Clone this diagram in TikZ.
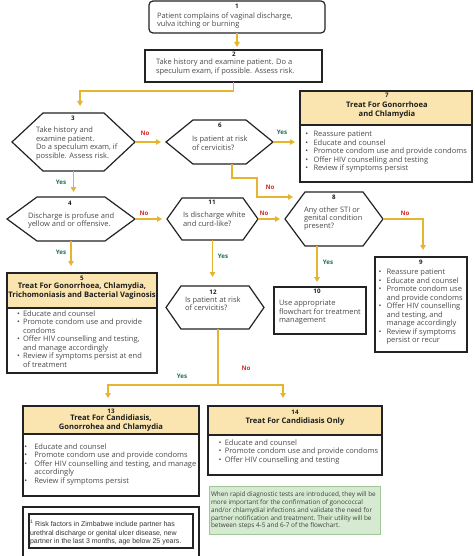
\documentclass[tikz,border=0pt]{standalone}
\usepackage{fontspec}
\setmainfont{Open Sans}
\newfontfamily\arialf{Liberation Sans}
\usetikzlibrary{arrows.meta,calc}
\definecolor{gold}{RGB}{230,180,45}
\definecolor{hdr}{RGB}{250,228,175}
\definecolor{bord}{RGB}{35,35,35}
\definecolor{txtc}{RGB}{75,75,75}
\definecolor{titc}{RGB}{30,30,30}
\definecolor{yesc}{RGB}{30,110,85}
\definecolor{noc}{RGB}{215,45,45}
\definecolor{notefill}{RGB}{213,234,209}
\definecolor{notebord}{RGB}{160,200,150}
\newlength\bw
\setlength\bw{7pt}
\newcommand{\bi}{\makebox[\bw][l]{\textbullet}}
\newcommand{\ci}{\hspace*{\bw}}
% name x1 y1 x2 y2 d
\newcommand{\hexnode}[6]{%
  \node[shp,minimum width={#4-#2},minimum height={#5-#3}] (#1) at ({(#2+#4)/2},{(#3+#5)/2}) {};
  \draw[bd,line join=miter] ([xshift=#6]#1.north west) -- ([xshift=-#6]#1.north east) -- (#1.east) -- ([xshift=-#6]#1.south east) -- ([xshift=#6]#1.south west) -- (#1.west) -- cycle;}
\newcommand{\boxnode}[5]{%
  \node[shp,minimum width={#4-#2},minimum height={#5-#3}] (#1) at ({(#2+#4)/2},{(#3+#5)/2}) {};}
\newcommand{\hdrbox}[2]{% name yheader
  \fill[hdr] (#1.north west) rectangle (#1.east |- 0,#2);
  \draw[bd] (#1.west |- 0,#2) -- (#1.east |- 0,#2);
  \draw[bd] (#1.north west) rectangle (#1.south east);}
\begin{document}
\begin{tikzpicture}[x=1pt,y=-1pt,
  shp/.style={inner sep=0,outer sep=0},
  bd/.style={draw=bord,line width=1.2pt},
  arr/.style={draw=gold,line width=1.4pt,-{Triangle[length=5pt,width=5.5pt]},shorten >=5pt},
  arrn/.style={draw=gold,line width=1.4pt,-{Triangle[length=5pt,width=5.5pt]}},
  txt/.style={inner sep=0,outer sep=0,anchor=north west,align=left,text=txtc,font=\fontsize{7.5}{8.5}\selectfont},
  blt/.style={txt,font={\fontsize{7.5}{8.5}\selectfont\setlength\bw{#1}}},
  num/.style={inner sep=0,outer sep=0,text=titc,font=\bfseries\fontsize{6.2}{7}\selectfont},
  ttl/.style={inner sep=0,outer sep=0,align=center,text=titc,font=\bfseries\fontsize{7.6}{9}\selectfont},
  lblyes/.style={inner sep=0,outer sep=0,text=yesc,font=\bfseries\fontsize{6.2}{7}\selectfont},
  lblno/.style={inner sep=0,outer sep=0,text=noc,font=\bfseries\fontsize{6.2}{7}\selectfont},
]
\useasboundingbox (0,0) rectangle (474,556);
\fill[white] (0,0) rectangle (474,556);

% ---- node 1
\node[shp,draw=bord,line width=1.2pt,rounded corners=4pt,minimum width=176,minimum height=32] (n1) at (237,17) {};
\node[num] (l1) at (237,6) {1};
\node[txt] (t1) at (157,12.3) {Patient complains of vaginal discharge,\\vulva itching or burning};

% ---- node 2
\boxnode{n2}{145}{50}{322}{82}
\draw[bd] (n2.north west) rectangle (n2.south east);
\node[num] (l2) at (234,54) {2};
\node[txt] (t2) at (156,59.3) {Take history and examine patient. Do a\\speculum exam, if possible. Assess risk.};

% ---- hexagons
\hexnode{n3}{12}{113}{135}{171}{31}
\node[num] (l3) at (73,118) {3};
\node[txt] (t3) at (36,127.3) {Take history and\\examine patient.\\Do a speculum exam, if\\possible. Assess risk.};

\hexnode{n6}{166}{120}{273}{164}{27}
\node[num] (l6) at (220,125) {6};
\node[txt] (t6) at (192,136.3) {Is patient at risk\\of cervicitis?};

\hexnode{n4}{7}{197}{135}{241}{30}
\node[num] (l4) at (70,203) {4};
\node[txt] (t4) at (28,212.3) {Discharge is profuse and\\yellow and or offensive.};

\hexnode{n11}{167}{198}{258}{240}{15}
\node[num] (l11) at (212,202) {11};
\node[txt] (t11) at (183,212.3) {Is discharge white\\and curd-like?};

\hexnode{n8}{285}{192}{383}{246}{20}
\node[num] (l8) at (334,197) {8};
\node[txt] (t8) at (304,206.3) {Any other STI or\\genital condition\\present?};

\hexnode{n12}{166}{286}{264}{329}{15}
\node[num] (l12) at (213,292) {12};
\node[txt] (t12) at (185,296.3) {Is patient at risk\\of cervicitis?};

% ---- node 7
\boxnode{n7}{300}{91}{472}{182}
\hdrbox{n7}{125}
\node[num] (l7) at (387,95.5) {7};
\node[ttl] (h7) at (387,110) {Treat For Gonorrhoea\\and Chlamydia};
\node[blt=8.2pt] (t7) at (305.3,131.3) {\bi Reassure patient\\\bi Educate and counsel\\\bi Promote condom use and provide condoms\\\bi Offer HIV counselling and testing\\\bi Review if symptoms persist};

% ---- node 5
\boxnode{n5}{7}{273}{157}{373}
\hdrbox{n5}{308}
\node[num] (l5) at (82,278) {5};
\node[ttl] (h5) at (82,291.5) {Treat For Gonorrhoea, Chlamydia,\\Trichomoniasis and Bacterial Vaginosis};
\node[blt=6pt] (t5) at (17,310.3) {\bi Educate and counsel\\\bi Promote condom use and provide\\\ci condoms\\\bi Offer HIV counselling and testing,\\\ci and manage accordingly\\\bi Review if symptoms persist at end\\\ci of treatment};

% ---- node 9
\boxnode{n9}{375}{257}{467}{352}
\draw[bd] (n9.north west) rectangle (n9.south east);
\node[num] (l9) at (421,262) {9};
\node[blt=8pt] (t9) at (378.6,269.3) {\bi Reassure patient\\\bi Educate and counsel\\\bi Promote condom use\\\ci and provide condoms\\\bi Offer HIV counselling\\\ci and testing, and\\\ci manage accordingly\\\bi Review if symptoms\\\ci persist or recur};

% ---- node 10
\boxnode{n10}{274}{287}{366}{334}
\draw[bd] (n10.north west) rectangle (n10.south east);
\node[num] (l10) at (317,291.5) {10};
\node[txt] (t10) at (279,300.3) {Use appropriate\\flowchart for treatment\\management};

% ---- node 13
\boxnode{n13}{23}{406}{199}{496}
\hdrbox{n13}{434}
\node[num] (l13) at (111,411) {13};
\node[ttl] (h13) at (111,423.5) {Treat For Candidiasis,\\Gonorrohea and Chlamydia};
\node[blt=10pt] (t13) at (24.3,443.3) {\bi Educate and counsel\\\bi Promote condom use and provide condoms\\\bi Offer HIV counselling and testing, and manage\\\ci accordingly\\\bi Review if symptoms persist};

% ---- node 14
\boxnode{n14}{208}{406}{382}{475}
\hdrbox{n14}{435}
\node[num] (l14) at (295,412) {14};
\node[ttl] (h14) at (295,421.5) {Treat For Candidiasis Only};
\node[blt=6.2pt] (t14) at (218.6,439.3) {\bi Educate and counsel\\\bi Promote condom use and provide condoms\\\bi Offer HIV counselling and testing};

% ---- green note
\node[shp,fill=notefill,draw=notebord,line width=0.8pt,minimum width=171,minimum height=48] (note) at (294.5,510) {};
\node[txt,font=\fontsize{6.4}{7.8}\selectfont,text=black!75] (tnote) at (211,491.8) {When rapid diagnostic tests are introduced, they will be\\more important for the confirmation of gonococcal\\and/or chlamydial infections and validate the need for\\partner notification and treatment. Their utility will be\\between steps 4-5 and 6-7 of the flowchart.};

% ---- footnote
\boxnode{fo}{23}{507}{199}{563}
\draw[bd] (fo.north west) rectangle (fo.south east);
\boxnode{fi}{29}{514}{193}{548}
\draw[bd] (fi.north west) rectangle (fi.south east);
\node[txt,font=\arialf\fontsize{7}{8.5}\selectfont,text=black!80] (tfoot) at (30,520.2) {\textsuperscript{1} Risk factors in Zimbabwe include partner has\\urethral discharge or genital ulcer disease, new\\partner in the last 3 months, age below 25 years.};

% ---- connectors
\draw[arr,shorten >=3pt] (n1.south) -- (n1.south |- n2.north);
\draw[arr,shorten >=7pt] (n2.south) -- ++(0,9) -| ([xshift=6.5]n3.north);
\draw[arr] (n3.east) -- (n6.west);
\draw[arr] (n3.south) -- (n3.south |- n4.north);
\draw[arr] (n6.east) -- (n6.east -| n7.west);
\draw[arrn] ([xshift=12.5]n6.south) -- ++(0,14) -- ++(25,0) |- ([xshift=8,yshift=22]n8.west);
\draw[arr,shorten >=7pt] (n4.south) -- (n4.south |- n5.north);
\draw[arr] (n4.east) -- (n11.west);
\draw[arr] (n11.east) -- (n8.west);
\draw[arr,shorten >=9pt] (n11.south) -- (n11.south |- n12.north);
\draw[arr,shorten >=7pt] (n8.east) -| ([xshift=2]n9.north);
\draw[arr] ([xshift=-3]n10.north |- n8.south) -- ([xshift=-3]n10.north);
\draw[arr,shorten >=8pt] ([xshift=3]n12.south) -- ++(0,56) -| ([xshift=-3]n13.north);
\draw[arr,shorten >=8pt] ([xshift=3]n12.south) -- ++(0,56) -| ([xshift=-12]n14.north);

% ---- labels
\node[lblno] (a1) at (145,133) {No};
\node[lblyes] (a2) at (61,182) {Yes};
\node[lblyes] (a3) at (282,132) {Yes};
\node[lblno] (a4) at (270,187) {No};
\node[lblno] (a5) at (144,213) {No};
\node[lblyes] (a6) at (61,252) {Yes};
\node[lblno] (a7) at (264,213) {No};
\node[lblyes] (a8) at (223,256) {Yes};
\node[lblno] (a9) at (405,213) {No};
\node[lblyes] (a10) at (328,262) {Yes};
\node[lblyes] (a11) at (182,376) {Yes};
\node[lblno] (a12) at (246,368) {No};
\end{tikzpicture}
\end{document}
